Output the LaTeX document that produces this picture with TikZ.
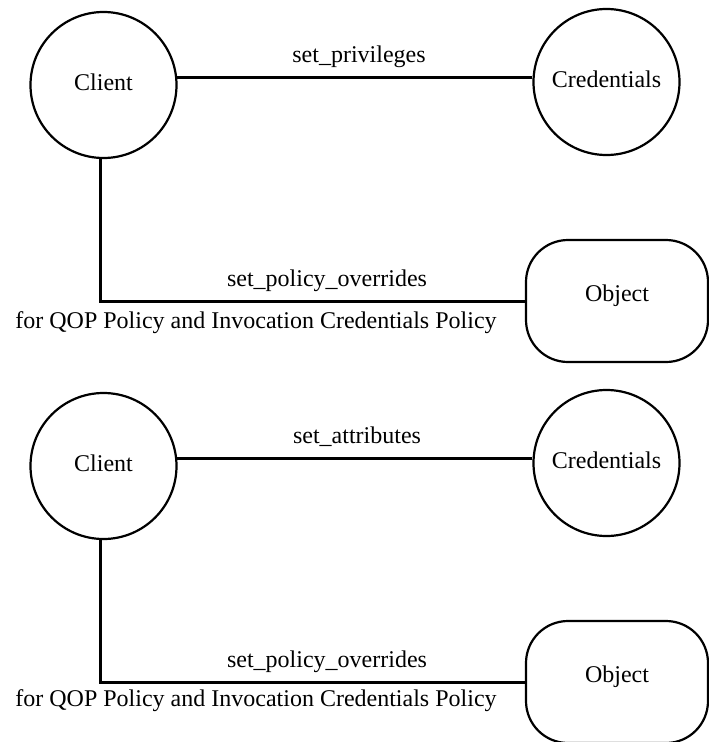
\documentclass[tikz,border=0pt]{standalone}
\usepackage{fontspec}
\setmainfont{Liberation Serif}
\begin{document}
\begin{tikzpicture}[x=1pt,y=-1pt,font=\fontsize{24}{28}\selectfont,
  ent/.style={circle,draw,line width=2.2pt,minimum size=146pt,inner sep=0pt,text height=10pt,text depth=0pt},
  objbox/.style={rectangle,rounded corners=42pt,draw,line width=2.2pt,minimum width=182pt,minimum height=122pt,inner sep=0pt,text height=8pt,text depth=8pt},
  conn/.style={line width=3pt},
  lbl/.style={anchor=base,inner sep=0pt}]
\useasboundingbox (0,0) rectangle (709,742);
% top diagram
\node[ent] (c1) at (103.5,85) {Client};
\node[ent] (r1) at (606.5,82) {Credentials};
\node[objbox] (o1) at (617,301) {Object};
\draw[conn] (c1.6) -- (c1.6 -| r1.west);
\draw[conn] (c1.268) |- (o1.west);
\node[lbl] (l1) at (359,62) {set\_privileges};
\node[lbl] (l2) at (327,286) {set\_policy\_overrides};
\node[lbl] (l3) at (256,328) {for QOP Policy and Invocation Credentials Policy};
% bottom diagram
\node[ent] (c2) at (103.5,466) {Client};
\node[ent] (r2) at (606.5,463) {Credentials};
\node[objbox] (o2) at (617,682) {Object};
\draw[conn] (c2.6) -- (c2.6 -| r2.west);
\draw[conn] (c2.268) |- (o2.west);
\node[lbl] (l4) at (357,443) {set\_attributes};
\node[lbl] (l5) at (327,667) {set\_policy\_overrides};
\node[lbl] (l6) at (256,706) {for QOP Policy and Invocation Credentials Policy};
\end{tikzpicture}
\end{document}
